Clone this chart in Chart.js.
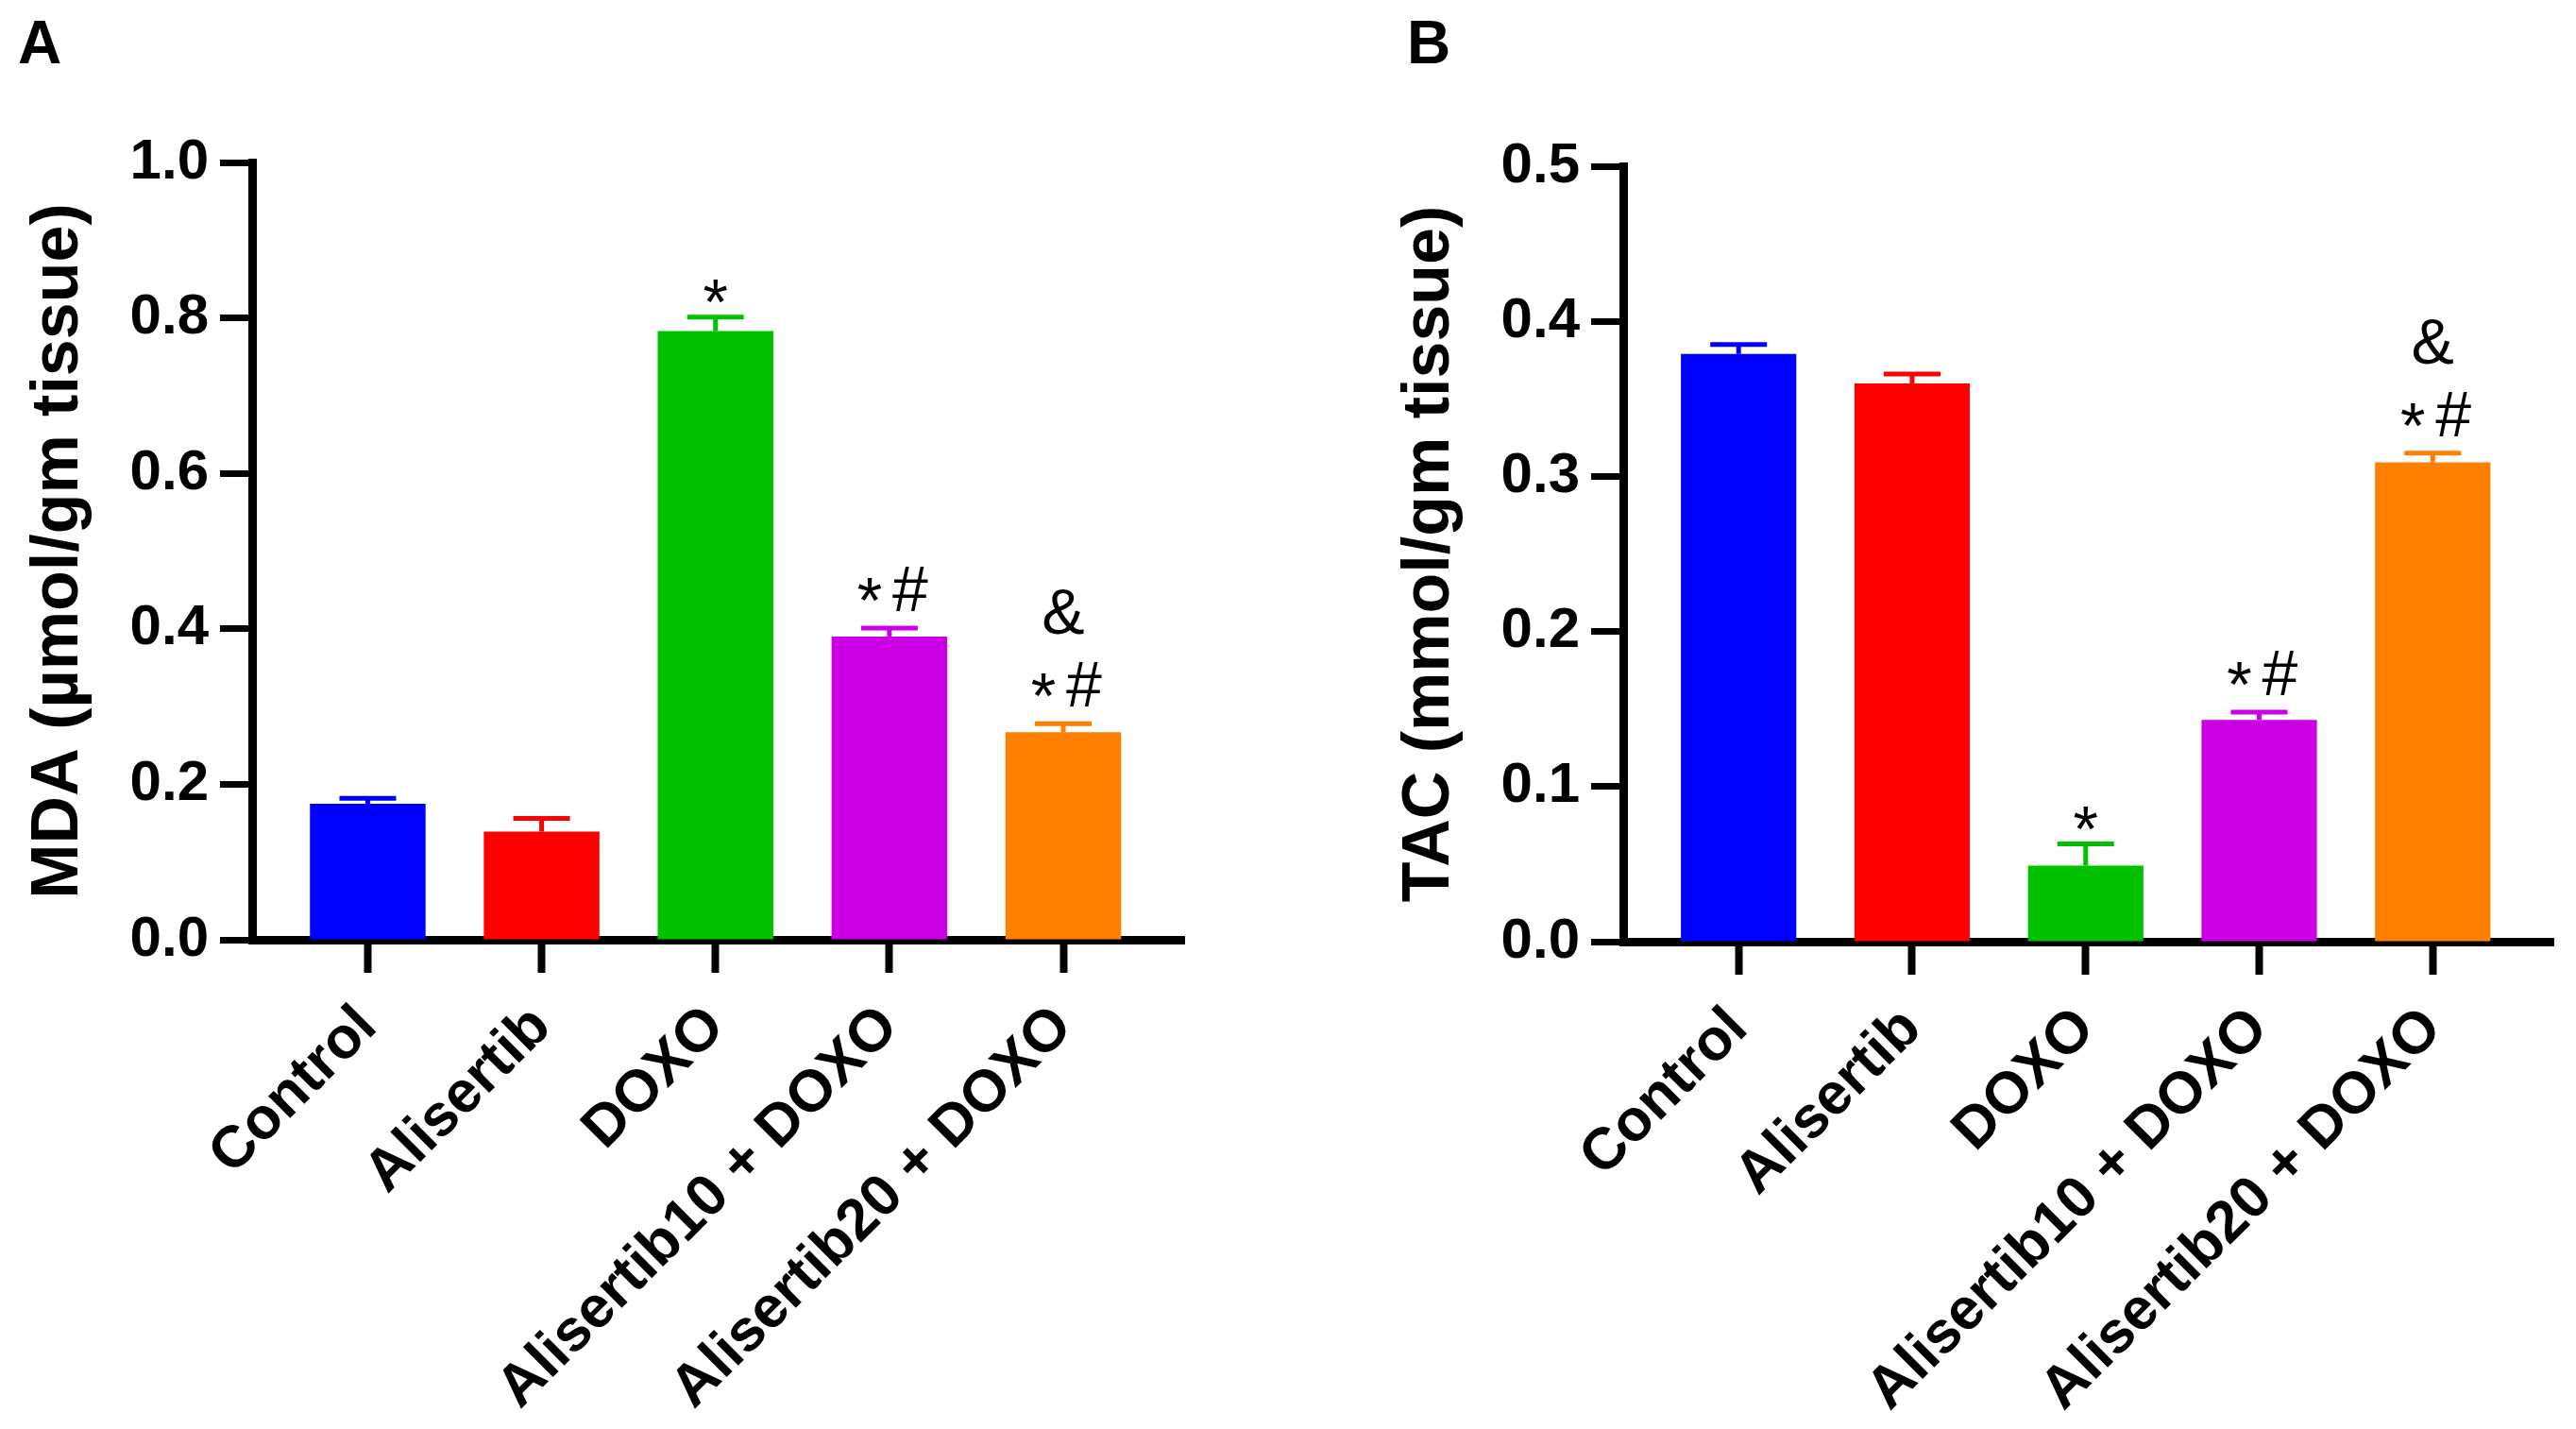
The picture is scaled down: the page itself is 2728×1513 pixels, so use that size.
<!DOCTYPE html>
<html>
<head>
<meta charset="utf-8">
<script src="https://cdn.jsdelivr.net/npm/chart.js@4.4.1/dist/chart.umd.min.js"></script>
<style>
  html, body { margin: 0; padding: 0; background: #fff; }
  body { width: 2728px; height: 1513px; position: relative; overflow: hidden; }
  canvas { position: absolute; top: 0; }
  #chartA { left: 0; }
  #chartB { left: 1452px; }
</style>
</head>
<body>
<canvas id="chartA" width="1364" height="1513" style="width:1364px;height:1513px"></canvas>
<canvas id="chartB" width="1276" height="1513" style="width:1276px;height:1513px"></canvas>
<script>
// groups on the x axis
const groups = ["Control", "Alisertib", "DOXO", "Alisertib10 + DOXO", "Alisertib20 + DOXO"];
const barColors = ["#0000FF", "#FF0000", "#00C000", "#CC00E5", "#FF8000"];

// panel A: MDA
const mdaValues = [0.175, 0.139, 0.783, 0.390, 0.267];
const mdaErrors = [0.007, 0.017, 0.018, 0.011, 0.011];
const mdaMarks = ["", "", "*", "*#", "&\n*#"];
const mdaTicks = [0, 0.2, 0.4, 0.6, 0.8, 1.0];

// panel B: TAC
const tacValues = [0.379, 0.360, 0.049, 0.143, 0.309];
const tacErrors = [0.006, 0.006, 0.014, 0.005, 0.006];
const tacMarks = ["", "", "*", "*#", "&\n*#"];
const tacTicks = [0, 0.1, 0.2, 0.3, 0.4, 0.5];

const FONT = '"Liberation Sans", Arial, sans-serif';

// upper error bars + significance marks + panel letter
const extras = {
  id: "extras",
  afterDatasetsDraw(chart, args, opts) {
    const { ctx } = chart;
    const ds = chart.data.datasets[0];
    const meta = chart.getDatasetMeta(0);
    const yScale = chart.scales.y;
    ctx.save();
    meta.data.forEach((bar, i) => {
      const raw = ds.data[i].y;
      const capY = yScale.getPixelForValue(raw + opts.errors[i]);
      ctx.strokeStyle = barColors[i];
      ctx.lineWidth = 5;
      ctx.beginPath();
      ctx.moveTo(bar.x, bar.y);
      ctx.lineTo(bar.x, capY);
      ctx.moveTo(bar.x - 30, capY);
      ctx.lineTo(bar.x + 30, capY);
      ctx.stroke();

      const mark = opts.marks[i];
      if (!mark) return;
      ctx.fillStyle = "#000";
      ctx.font = "68px " + FONT;
      ctx.textAlign = "center";
      ctx.textBaseline = "alphabetic";
      const lines = mark.split("\n").reverse();
      let base = capY - 18;
      lines.forEach((line) => {
        if (line === "*") {
          ctx.fillText("*", bar.x, capY + 7);
        } else if (line === "*#") {
          ctx.fillText("*", bar.x - 21, base + 12);
          ctx.fillText("#", bar.x + 22, base);
        } else {
          ctx.fillText(line, bar.x, base + 2);
        }
        base -= 79;
      });
    });
    ctx.restore();
  },
  afterDraw(chart, args, opts) {
    const { ctx } = chart;
    ctx.save();
    ctx.fillStyle = "#000";
    ctx.font = "bold 64px " + FONT;
    ctx.textAlign = "left";
    ctx.textBaseline = "alphabetic";
    ctx.fillText(opts.letter, opts.letterX, 67);
    ctx.restore();
  },
};

function makeChart(id, values, errors, marks, ticks, title, letter, letterX, top, right, bottom) {
  const ctx = document.getElementById(id);
  return new Chart(ctx, {
    type: "bar",
    data: {
      datasets: [
        {
          data: values.map((v, i) => ({ x: i, y: v })),
          backgroundColor: barColors,
          borderWidth: 0,
          barPercentage: 0.665,
          categoryPercentage: 1,
        },
      ],
    },
    options: {
      responsive: false,
      animation: false,
      devicePixelRatio: 1,
      layout: { padding: { top: top, right: right, left: 0, bottom: 0 } },
      plugins: {
        legend: { display: false },
        tooltip: { enabled: false },
        extras: { errors: errors, marks: marks, letter: letter, letterX: letterX },
      },
      scales: {
        x: {
          type: "linear",
          min: -0.665,
          max: 4.695,
          offset: false,
          z: 1,
          afterBuildTicks: (s) => {
            s.ticks = groups.map((g, i) => ({ value: i }));
          },
          afterFit: (s) => {
            s.height = 1513 - bottom;
          },
          ticks: {
            autoSkip: false,
            minRotation: 45,
            maxRotation: 45,
            padding: 21,
            color: "#000",
            font: { family: FONT, size: 62, weight: "bold" },
            callback: (v) => groups[v],
          },
          grid: {
            offset: false,
            drawOnChartArea: false,
            drawTicks: true,
            tickLength: 35,
            tickWidth: 8,
            tickColor: "#000",
          },
          border: { display: true, width: 9, color: "#000" },
        },
        y: {
          min: ticks[0],
          max: ticks[ticks.length - 1],
          z: 1,
          afterBuildTicks: (s) => {
            s.ticks = ticks.map((t) => ({ value: t }));
          },
          afterFit: (s) => {
            s.width = 267;
          },
          ticks: {
            padding: 12,
            color: "#000",
            font: { family: FONT, size: 60, weight: "bold" },
            callback: (v) => Number(v).toFixed(1),
          },
          grid: { drawOnChartArea: false, drawTicks: true, tickLength: 34, tickWidth: 7, tickColor: "#000" },
          border: { display: true, width: 9, color: "#000" },
          title: {
            display: true,
            text: title,
            color: "#000",
            font: { family: FONT, size: 70, weight: "bold" },
            padding: { top: 21, bottom: 0 },
          },
        },
      },
    },
    plugins: [extras],
  });
}

makeChart("chartA", mdaValues, mdaErrors, mdaMarks, mdaTicks, "MDA (\u00b5mol/gm tissue)", "A", 19, 172, 110, 995);
makeChart("chartB", tacValues, tacErrors, tacMarks, tacTicks, "TAC (mmol/gm tissue)", "B", 38, 176, 24, 997);
</script>
</body>
</html>
